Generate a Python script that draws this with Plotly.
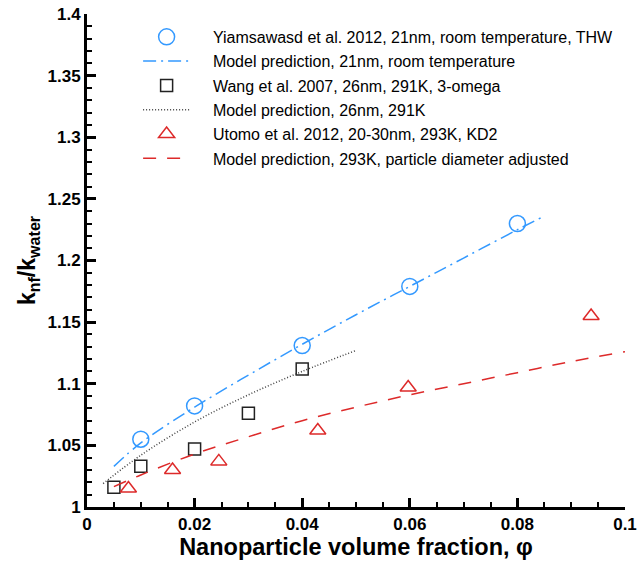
import plotly.graph_objects as go

# Experimental data
yiam_x = [0.01, 0.02, 0.04, 0.06, 0.08]
yiam_y = [1.055, 1.082, 1.131, 1.179, 1.230]

wang_x = [0.005, 0.01, 0.02, 0.03, 0.04]
wang_y = [1.016, 1.033, 1.047, 1.076, 1.112]

utomo_x = [0.0077, 0.0159, 0.0245, 0.0429, 0.0597, 0.0937]
utomo_y = [1.015, 1.030, 1.037, 1.062, 1.097, 1.155]

# Model predictions
m21_x = [0.005, 0.01, 0.02, 0.03, 0.04, 0.05, 0.06, 0.07, 0.08, 0.085]
m21_y = [1.033, 1.052, 1.081, 1.107, 1.132, 1.156, 1.179, 1.202, 1.225, 1.236]

m26_x = [0.003, 0.01, 0.02, 0.03, 0.04, 0.05]
m26_y = [1.019, 1.042, 1.069, 1.091, 1.110, 1.127]

m293_x = [0.005, 0.01, 0.02, 0.03, 0.04, 0.05, 0.06, 0.07, 0.08, 0.09, 0.1]
m293_y = [1.0165, 1.026, 1.043, 1.057, 1.070, 1.081, 1.091, 1.100, 1.109, 1.118, 1.126]

names = [
    "Yiamsawasd et al. 2012, 21nm, room temperature, THW",
    "Model prediction, 21nm, room temperature",
    "Wang et al. 2007, 26nm, 291K, 3-omega",
    "Model prediction, 26nm, 291K",
    "Utomo et al. 2012, 20-30nm, 293K, KD2",
    "Model prediction, 293K, particle diameter adjusted",
]
PAD = "\u00a0" * 4

BLUE = "#3399ff"
RED = "#dd2a2a"
FONT = "Liberation Sans, Arial, sans-serif"

fig = go.Figure()
fig.add_trace(go.Scatter(x=yiam_x, y=yiam_y, mode="markers", name=PAD + names[0], legendgroup="g1",
                         marker=dict(symbol="circle-open", size=16, color=BLUE, line=dict(width=1.5))))
fig.add_trace(go.Scatter(x=m21_x, y=m21_y, mode="lines", name=PAD + names[1], legendgroup="g2",
                         line=dict(color=BLUE, width=1.5, dash="13px,5px,2px,5px", shape="spline")))
fig.add_trace(go.Scatter(x=wang_x, y=wang_y, mode="markers", name=PAD + names[2], legendgroup="g3",
                         marker=dict(symbol="square-open", size=12, color="#222222", line=dict(width=1.5))))
fig.add_trace(go.Scatter(x=m26_x, y=m26_y, mode="lines", name=PAD + names[3], legendgroup="g4",
                         line=dict(color="#444444", width=1.5, dash="1px,2px", shape="spline")))
fig.add_trace(go.Scatter(x=utomo_x, y=utomo_y, mode="markers", name=PAD + names[4], legendgroup="g5",
                         marker=dict(symbol="triangle-up-open", size=14, color=RED, line=dict(width=1.5))))
fig.add_trace(go.Scatter(x=m293_x, y=m293_y, mode="lines", name=PAD + names[5], legendgroup="g6",
                         line=dict(color=RED, width=1.5, dash="13px,11px", shape="spline")))

axis_common = dict(
    showline=True, linewidth=3, linecolor="black", mirror=False,
    ticks="inside", ticklen=9, tickwidth=3, tickcolor="black",
    showgrid=False, zeroline=False, automargin=False,
    tickfont=dict(family=FONT, size=17, color="black", weight="bold"),
)

fig.update_xaxes(
    range=[0, 0.1], dtick=0.02, tick0=0,
    minor=dict(dtick=0.005, ticks="inside", ticklen=5, tickwidth=1.5, tickcolor="black", showgrid=False),
    title=dict(text="Nanoparticle volume fraction, φ", font=dict(family=FONT, size=23.5, color="black", weight="bold"), standoff=2),
    **axis_common,
)
fig.update_yaxes(
    range=[1, 1.4], dtick=0.05, tick0=1,
    minor=dict(dtick=0.01, ticks="inside", ticklen=5, tickwidth=1.5, tickcolor="black", showgrid=False),
    title=dict(text="k<sub>nf</sub>/k<sub>water</sub>", font=dict(family=FONT, size=23, color="black", weight="bold"), standoff=6),
    **axis_common,
)

fig.update_layout(
    width=639, height=562,
    margin=dict(l=87, r=14, t=14, b=55),
    paper_bgcolor="white", plot_bgcolor="white",
    font=dict(family=FONT, color="black"),
    showlegend=True,
    legend=dict(
        x=0.095, y=0.988, xanchor="left", yanchor="top",
        bgcolor="rgba(0,0,0,0)", borderwidth=0,
        font=dict(family=FONT, size=16, color="black"),
        itemwidth=47, tracegroupgap=0.5,
    ),
)

fig.write_html("out.html")
